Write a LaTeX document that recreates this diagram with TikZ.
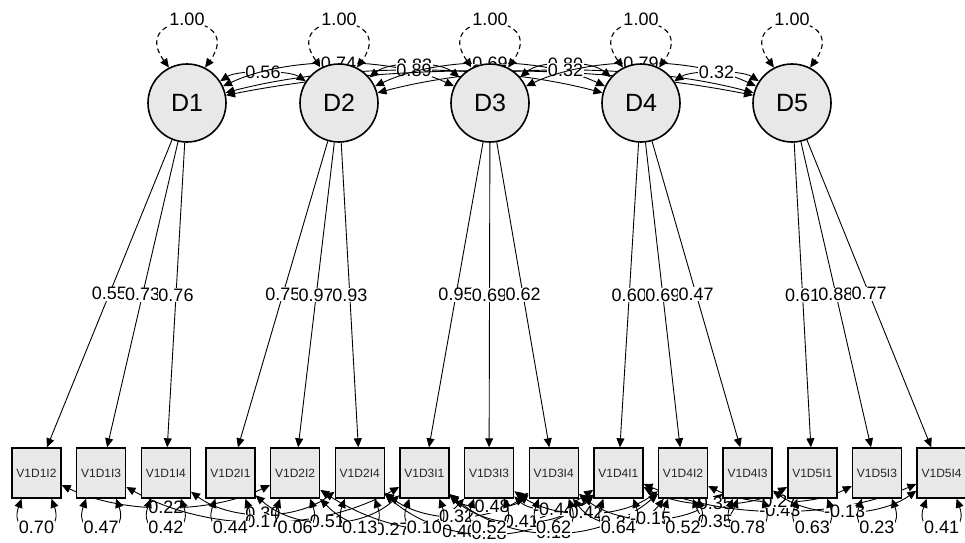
\documentclass[tikz,border=0pt]{standalone}
\usepackage{fontspec}
\setmainfont{Liberation Sans}
\usetikzlibrary{arrows.meta}
\pgfdeclarelayer{background}
\pgfsetlayers{background,main}
\definecolor{nodefill}{RGB}{232,232,232}
% manifest residual covariance: from, to, label y, label
\newcommand\mycovar[4]{%
  \pgfmathsetmacro\cdx{64.65*(#2-#1)/3}%
  \pgfmathsetmacro\cdy{(#3-477)/0.75}%
  \draw[cv] (b#1) .. controls +(\cdx,\cdy) and +(-\cdx,\cdy) .. (b#2) node[lbl,pos=0.5]{#4};}
% latent covariance: from, to, height, label
\newcommand\mylatcov[4]{%
  \pgfmathsetmacro\cdx{151*(#2-#1)/3}%
  \draw[cv] (D#1) .. controls +(\cdx,-#3) and +(-\cdx,-#3) .. (D#2) node[lbl,pos=0.5]{#4};}
\begin{document}
\begin{tikzpicture}[x=1pt,y=-1pt,
  >={Triangle[length=9pt,width=8pt]},
  lat/.style={circle,draw,line width=1.6pt,fill=nodefill,minimum size=78pt,inner sep=0pt,font=\fontsize{25}{25}\selectfont},
  man/.style={rectangle,draw,line width=1.4pt,fill=nodefill,minimum width=49pt,minimum height=50pt,inner sep=0pt,text=black!85,font=\fontsize{12}{12}\selectfont},
  lbl/.style={fill=white,inner sep=0.6pt,font=\fontsize{18}{18}\selectfont},
  ld/.style={->,line width=0.9pt},
  cv/.style={<->,line width=0.9pt},
  selfl/.style={<->,line width=1.1pt,dash pattern=on 5pt off 3.5pt},
  resl/.style={<->,line width=0.9pt}]
\useasboundingbox (0,0) rectangle (965,542);
% latent nodes
\foreach \i/\x in {1/187,2/339,3/490,4/641,5/792}
  \node[lat] (D\i) at (\x,103) {D\i};
% manifest nodes
\foreach \i/\t in {1/V1D1I2,2/V1D1I3,3/V1D1I4,4/V1D2I1,5/V1D2I2,6/V1D2I4,7/V1D3I1,8/V1D3I3,9/V1D3I4,10/V1D4I1,11/V1D4I2,12/V1D4I3,13/V1D5I1,14/V1D5I3,15/V1D5I4}
  \node[man] (b\i) at ({36.5+64.65*(\i-1)},473) {\t};
\begin{pgfonlayer}{background}
% latent variances
\foreach \i in {1,...,5}{
  \draw[selfl] (D\i.117) .. controls +(-42,-58) and +(42,-58) .. (D\i.63);
  \node[lbl] (v\i) at ([yshift=44pt]D\i.north) {1.00};
}
% latent covariances
\mylatcov{1}{2}{33}{0.56}
\mylatcov{1}{3}{47}{0.74}
\mylatcov{2}{3}{42}{0.83}
\mylatcov{1}{4}{40}{0.89}
\mylatcov{2}{4}{47}{0.69}
\mylatcov{1}{5}{40}{0.57}
\mylatcov{3}{4}{43}{0.80}
\mylatcov{2}{5}{40}{0.32}
\mylatcov{3}{5}{47}{0.79}
\mylatcov{4}{5}{33}{0.32}
% loadings
\foreach \d/\b/\v in {1/1/0.55,1/2/0.73,1/3/0.76,2/4/0.75,2/5/0.97,2/6/0.93,3/7/0.95,3/8/0.69,3/9/0.62,4/10/0.60,4/11/0.69,4/12/0.47,5/13/0.61,5/14/0.88,5/15/0.77}
  \draw[ld] (D\d) -- (b\b) node[lbl,pos=0.5]{\v};
% residual covariances
\mycovar{1}{5}{508}{0.22}
\mycovar{3}{6}{513}{0.30}
\mycovar{2}{7}{522}{0.17}
\mycovar{4}{7}{520}{0.51}
\mycovar{5}{8}{527}{0.27}
\mycovar{5}{10}{531}{-0.40}
\mycovar{6}{9}{515}{0.32}
\mycovar{6}{10}{532}{0.28}
\mycovar{7}{9}{505}{-0.48}
\mycovar{7}{10}{520}{0.41}
\mycovar{7}{11}{531}{0.18}
\mycovar{8}{10}{507}{-0.44}
\mycovar{8}{11}{512}{0.42}
\mycovar{9}{11}{520}{0.31}
\mycovar{9}{12}{517}{-0.15}
\mycovar{10}{13}{504}{0.35}
\mycovar{10}{15}{512}{-0.43}
\mycovar{11}{12}{519}{0.35}
\mycovar{11}{14}{502}{0.27}
\mycovar{12}{15}{511}{-0.13}
% residual variances
\foreach \i/\v in {1/0.70,2/0.47,3/0.42,4/0.44,5/0.06,6/0.13,7/0.10,8/0.52,9/0.62,10/0.64,11/0.52,12/0.78,13/0.63,14/0.23,15/0.41}{
  \draw[resl] ([xshift=-15pt]b\i.south) .. controls +(-15,42) and +(15,42) .. ([xshift=15pt]b\i.south);
  \node[lbl] (r\i) at ([yshift=-29pt]b\i.south) {\v};
}
\end{pgfonlayer}
\end{tikzpicture}
\end{document}
